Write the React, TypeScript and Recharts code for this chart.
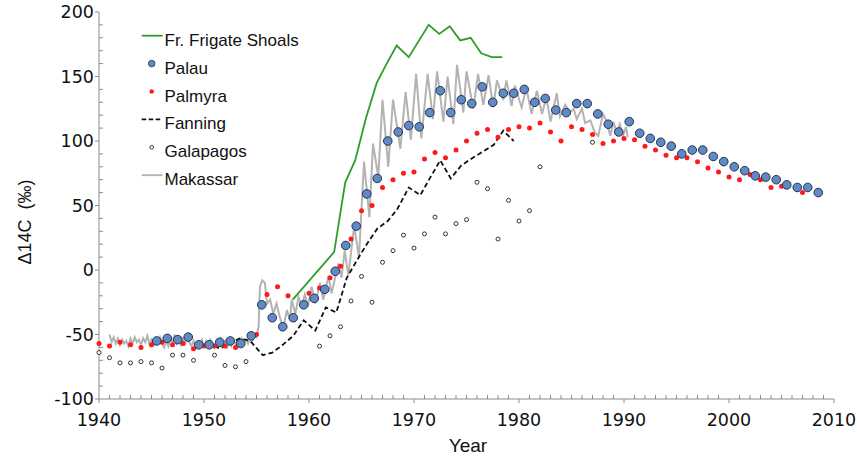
import { ComposedChart, Line, Scatter, XAxis, YAxis, Legend } from "recharts";

const AXIS = "#8c8c8c";
const FONT = "'Liberation Sans', Arial, Helvetica, sans-serif";
const TICK_FONT = "'DejaVu Sans', 'Liberation Sans', Arial, sans-serif";

const frigateYears = [1958.45, 1962.4, 1963.45, 1964.4, 1965.4, 1966.45, 1967.4, 1968.35, 1969.5, 1971.4, 1972.4, 1973.4, 1974.4, 1975.4, 1976.4, 1977.4, 1978.4];
const frigateValues = [-23, 14, 68, 85, 117, 145, 160, 174, 165, 190, 183, 189, 178, 180, 168, 165, 165];

const palauYears = [
  1945.5, 1946.5, 1947.5, 1948.5, 1949.5, 1950.5, 1951.5, 1952.5, 1953.5, 1954.5,
  1955.5, 1956.5, 1957.5, 1958.5, 1959.5, 1960.5, 1961.5, 1962.5, 1963.5, 1964.5,
  1965.5, 1966.5, 1967.5, 1968.5, 1969.5, 1970.5, 1971.5, 1972.5, 1973.5, 1974.5,
  1975.5, 1976.5, 1977.5, 1978.5, 1979.5, 1980.5, 1981.5, 1982.5, 1983.5, 1984.5,
  1985.5, 1986.5, 1987.5, 1988.5, 1989.5, 1990.5, 1991.5, 1992.5, 1993.5, 1994.5,
  1995.5, 1996.5, 1997.5, 1998.5, 1999.5, 2000.5, 2001.5, 2002.5, 2003.5, 2004.5,
  2005.5, 2006.5, 2007.5, 2008.5,
];
const palauValues = [
  -55, -53, -54, -52, -58, -58, -56, -55, -57, -51,
  -27, -37, -44, -37, -27, -22, -15, -1, 19, 34,
  59, 71, 100, 107, 112, 111, 122, 139, 122, 132,
  129, 142, 130, 137, 137, 140, 130, 133, 124, 122,
  129, 129, 121, 113, 107, 115, 106, 102, 99, 96,
  90, 93, 93, 88, 84, 80, 77, 73, 72, 70,
  66, 64, 64, 60,
];

const palmyraYears = [
  1940, 1941, 1942, 1943, 1944, 1945, 1946, 1947, 1948, 1949, 1950, 1951, 1952, 1953,
  1955, 1956, 1957, 1958, 1960, 1961, 1962, 1963, 1964, 1965, 1966, 1967, 1968, 1969,
  1970, 1971, 1972, 1973, 1974, 1975, 1976, 1977, 1978, 1979, 1980, 1981, 1982, 1983,
  1984, 1985, 1986, 1987, 1988, 1989, 1990, 1991, 1992, 1993, 1994, 1995, 1996, 1997,
  1998, 1999, 2000, 2001, 2002, 2003, 2004, 2005, 2007,
];
const palmyraValues = [
  -57, -59, -56, -58, -60, -58, -56, -58, -57, -61, -59, -59, -59, -60,
  -50, -19, -13, -20, -18, -14, -6, 3, 24, 46, 50, 64, 70, 75,
  76, 86, 91, 87, 93, 100, 106, 109, 103, 109, 111, 110, 114, 107,
  100, 111, 109, 105, 98, 100, 102, 101, 96, 93, 89, 87, 87, 84,
  79, 76, 72, 70, 74, 70, 64, 65, 60,
];

const fanningYears = [
  1951.0, 1951.5, 1952.2, 1953.4, 1954.4, 1955.6, 1956.5, 1957.5, 1958.5, 1959.5,
  1960.6, 1961.6, 1962.6, 1963.6, 1964.6, 1965.5, 1966.5, 1967.5, 1968.4, 1969.5,
  1970.6, 1971.5, 1972.5, 1973.5, 1974.5, 1975.6, 1976.6, 1977.6, 1978.5, 1979.5,
];
const fanningValues = [
  -59, -61, -58, -53, -55, -66, -64, -58, -51, -39,
  -47, -29, -33, -6, 8, 20, 32, 38, 47, 64,
  58, 71, 85, 71, 81, 87, 92, 97, 108, 100,
];

const galapagosYears = [
  1940, 1941, 1942, 1943, 1944, 1945, 1946, 1947, 1948, 1949, 1951, 1952, 1953, 1954,
  1961, 1962, 1963, 1964, 1965, 1966, 1967, 1968, 1969, 1970, 1971, 1972, 1973, 1974,
  1975, 1976, 1977, 1978, 1979, 1980, 1981, 1982, 1987,
];
const galapagosValues = [
  -64, -68, -72, -72, -71, -72, -76, -66, -66, -70, -66, -74, -75, -71,
  -59, -51, -44, -24, -5, -25, 6, 15, 27, 17, 28, 41, 28, 36,
  39, 68, 63, 24, 54, 38, 46, 80, 99,
];

const makassarYears = [
  1941.0, 1941.2, 1941.4, 1941.6, 1941.8, 1942.0, 1942.2, 1942.4, 1942.6, 1942.8,
  1943.0, 1943.2, 1943.4, 1943.6, 1943.8, 1944.0, 1944.2, 1944.4, 1944.6, 1944.8,
  1945.0, 1945.2, 1945.4, 1945.6, 1945.8, 1946.0, 1946.2, 1946.4, 1946.6, 1946.8,
  1947.0, 1947.2, 1947.4, 1947.6, 1947.8, 1948.0, 1948.2, 1948.4, 1948.6, 1948.8,
  1949.0, 1949.2, 1949.4, 1949.6, 1949.8, 1950.0, 1950.2, 1950.4, 1950.6, 1950.8,
  1951.0, 1951.2, 1951.4, 1951.6, 1951.8, 1952.0, 1952.2, 1952.4, 1952.6, 1952.8,
  1953.0, 1953.2, 1953.4, 1953.6, 1953.8, 1954.0, 1954.2, 1954.4, 1954.6, 1954.8,
  1955.0, 1955.2, 1955.33, 1955.55, 1955.8, 1956.0, 1956.3, 1956.6, 1956.9, 1957.2,
  1957.55, 1957.9, 1958.2, 1958.35, 1958.7, 1959.0, 1959.3, 1959.6, 1959.9, 1960.25,
  1960.6, 1961.05, 1961.35, 1961.85, 1962.15, 1962.8, 1963.1, 1963.4, 1963.75, 1964.3,
  1964.76, 1965.24, 1965.75, 1966.1, 1966.6, 1967.0, 1967.55, 1968.0, 1968.7, 1969.2,
  1969.7, 1970.2, 1970.7, 1971.3, 1971.8, 1972.2, 1972.8, 1973.2, 1973.75, 1974.1,
  1974.7, 1975.0, 1975.65, 1976.1, 1976.6, 1977.1, 1977.55, 1977.9, 1978.5, 1978.8,
  1979.3, 1979.6, 1980.25, 1980.7, 1981.2, 1981.7, 1982.2, 1982.6, 1983.0, 1983.6,
  1983.9, 1984.4, 1984.85, 1985.2, 1985.5, 1986.0, 1986.3, 1986.8, 1987.2, 1987.55,
  1988.0, 1988.3, 1988.7, 1989.0, 1989.3, 1989.6, 1989.9, 1990.2, 1990.35,
];
const makassarValues = [
  -50, -56, -52, -57, -53, -58, -54, -57, -55, -59,
  -53, -57, -52, -56, -54, -58, -53, -56, -51, -57,
  -54, -58, -53, -56, -52, -57, -60, -55, -59, -53,
  -56, -50, -57, -54, -58, -53, -57, -52, -56, -59,
  -55, -60, -56, -58, -54, -59, -55, -58, -54, -57,
  -60, -55, -58, -53, -57, -55, -60, -56, -59, -54,
  -58, -55, -57, -53, -56, -54, -57, -52, -55, -50,
  -52, -44, -13, -8, -10, -26, -23, -34, -26, -36,
  -45, -31, -39, -23, -34, -21, -28, -19, -28, -13,
  -26, -10, -23, -5, -18, 5, -6, 15, -4, 34,
  10, 84, 41, 98, 72, 132, 80, 132, 94, 138,
  101, 152, 102, 152, 117, 154, 115, 150, 113, 159,
  122, 154, 125, 152, 128, 151, 126, 147, 132, 147,
  127, 143, 126, 141, 121, 139, 121, 134, 115, 137,
  119, 128, 122, 125, 117, 125, 114, 116, 107, 104,
  121, 116, 104, 115, 106, 113, 104, 111, 103,
];

const xTicks = [
  1940, 1941, 1942, 1943, 1944, 1945, 1946, 1947, 1948, 1949, 1950, 1951, 1952, 1953, 1954, 1955,
  1956, 1957, 1958, 1959, 1960, 1961, 1962, 1963, 1964, 1965, 1966, 1967, 1968, 1969, 1970, 1971,
  1972, 1973, 1974, 1975, 1976, 1977, 1978, 1979, 1980, 1981, 1982, 1983, 1984, 1985, 1986, 1987,
  1988, 1989, 1990, 1991, 1992, 1993, 1994, 1995, 1996, 1997, 1998, 1999, 2000, 2001, 2002, 2003,
  2004, 2005, 2006, 2007, 2008, 2009, 2010,
];
const yTicks = [
  -100, -90, -80, -70, -60, -50, -40, -30, -20, -10, 0, 10, 20, 30, 40, 50,
  60, 70, 80, 90, 100, 110, 120, 130, 140, 150, 160, 170, 180, 190, 200,
];

const toPoints = (xs: number[], ys: number[]) => xs.map((x, i) => ({ x, y: ys[i] }));

const frigate = toPoints(frigateYears, frigateValues);
const palau = toPoints(palauYears, palauValues);
const palmyra = toPoints(palmyraYears, palmyraValues);
const fanning = toPoints(fanningYears, fanningValues);
const galapagos = toPoints(galapagosYears, galapagosValues);
const makassar = toPoints(makassarYears, makassarValues);

function XTick(props: any) {
  const { x, y, payload } = props;
  const major = payload.value % 10 === 0;
  if (!major) return <line x1={x} x2={x} y1={y} y2={y - 4} stroke={AXIS} />;
  return (
    <g>
      <line x1={x} x2={x} y1={y} y2={y + 4} stroke={AXIS} />
      <text x={x} y={y + 27} textAnchor="middle" fontSize={17.5} fill="#111" fontFamily={TICK_FONT}>
        {payload.value}
      </text>
    </g>
  );
}

function YTick(props: any) {
  const { x, y, payload } = props;
  const major = payload.value % 50 === 0;
  if (!major) return <line x1={x} x2={x + 4} y1={y} y2={y} stroke={AXIS} />;
  return (
    <g>
      <line x1={x - 4} x2={x} y1={y} y2={y} stroke={AXIS} />
      <text x={x - 5} y={y} dy="0.36em" textAnchor="end" fontSize={17.5} fill="#111" fontFamily={TICK_FONT}>
        {payload.value}
      </text>
    </g>
  );
}

function YLabel() {
  return (
    <text
      x={25}
      y={222}
      transform="rotate(-90 25 222)"
      textAnchor="middle"
      dy="0.35em"
      fontSize={18}
      fill="#111"
      fontFamily={FONT}
      style={{ whiteSpace: "pre" }}
    >
      {"Δ14C  (‰)"}
    </text>
  );
}

function XLabel() {
  return (
    <text x={468} y={452} textAnchor="middle" fontSize={19} fill="#111" fontFamily={FONT}>
      Year
    </text>
  );
}

function PalauDot(p: any) {
  return <circle cx={p.cx} cy={p.cy} r={4.3} fill="#6189c4" stroke="#22334f" strokeWidth={1} />;
}
function PalmyraDot(p: any) {
  return <circle cx={p.cx} cy={p.cy} r={2.5} fill="#ff1a1a" />;
}
function GalapagosDot(p: any) {
  return <circle cx={p.cx} cy={p.cy} r={2} fill="#fff" stroke="#333" strokeWidth={1} />;
}

const legendItems = ["Fr. Frigate Shoals", "Palau", "Palmyra", "Fanning", "Galapagos", "Makassar"];

function LegendBox() {
  const rowY = (i: number) => 15.7 + i * 27.9;
  return (
    <svg width={230} height={175} style={{ overflow: "visible" }}>
      <line x1={11.7} x2={32.7} y1={rowY(0)} y2={rowY(0)} stroke="#2e9e2a" strokeWidth={1.8} />
      <circle cx={21.7} cy={rowY(1)} r={3.3} fill="#6189c4" stroke="#22334f" strokeWidth={0.8} />
      <circle cx={21.7} cy={rowY(2)} r={2.2} fill="#ff1a1a" />
      <line x1={11.7} x2={31} y1={rowY(3)} y2={rowY(3)} stroke="#111" strokeWidth={1.6} strokeDasharray="4.5 2.5" />
      <circle cx={21.7} cy={rowY(4)} r={1.8} fill="#fff" stroke="#333" strokeWidth={1} />
      <line x1={11.7} x2={32.7} y1={rowY(5)} y2={rowY(5)} stroke="#b3b3b3" strokeWidth={1.8} />
      {legendItems.map((name, i) => (
        <text key={name} x={34.5} y={rowY(i) + 10} fontSize={17} fill="#111" fontFamily={FONT}>
          {name}
        </text>
      ))}
    </svg>
  );
}

export default function App() {
  return (
    <div style={{ position: "absolute", left: 0, top: 0, width: 857, height: 457, background: "#fff", fontFamily: FONT }}>
      <ComposedChart width={857} height={457} margin={{ top: 12, right: 23, bottom: 0, left: 0 }}>
        <XAxis
          dataKey="x"
          type="number"
          domain={[1940, 2010]}
          ticks={xTicks}
          interval={0}
          height={58}
          tickSize={0}
          tickMargin={0}
          tick={<XTick />}
          tickLine={false}
          axisLine={{ stroke: AXIS }}
          label={<XLabel />}
        />
        <XAxis xAxisId="top" orientation="top" type="number" domain={[1940, 2010]} height={0} tick={false} tickLine={false} axisLine={{ stroke: AXIS }} />
        <YAxis
          dataKey="y"
          type="number"
          domain={[-100, 200]}
          ticks={yTicks}
          interval={0}
          width={99}
          tickSize={0}
          tickMargin={0}
          tick={<YTick />}
          tickLine={false}
          axisLine={{ stroke: AXIS }}
          label={<YLabel />}
        />
        <YAxis yAxisId="right" orientation="right" type="number" domain={[-100, 200]} width={0} tick={false} tickLine={false} axisLine={{ stroke: AXIS }} />
        <Legend
          layout="vertical"
          align="center"
          verticalAlign="middle"
          content={() => <LegendBox />}
          wrapperStyle={{ left: 130, top: 20, width: 230, height: 175 }}
        />
        <Line data={makassar} dataKey="y" name="Makassar" stroke="#b3b3b3" strokeWidth={2} dot={false} activeDot={false} isAnimationActive={false} />
        <Line data={fanning} dataKey="y" name="Fanning" stroke="#111" strokeWidth={1.8} strokeDasharray="5 3" dot={false} activeDot={false} isAnimationActive={false} />
        <Line data={frigate} dataKey="y" name="Fr. Frigate Shoals" stroke="#2e9e2a" strokeWidth={1.8} dot={false} activeDot={false} isAnimationActive={false} />
        <Scatter data={galapagos} dataKey="y" name="Galapagos" shape={GalapagosDot} isAnimationActive={false} />
        <Scatter data={palmyra} dataKey="y" name="Palmyra" shape={PalmyraDot} isAnimationActive={false} />
        <Scatter data={palau} dataKey="y" name="Palau" shape={PalauDot} isAnimationActive={false} />
      </ComposedChart>
    </div>
  );
}
